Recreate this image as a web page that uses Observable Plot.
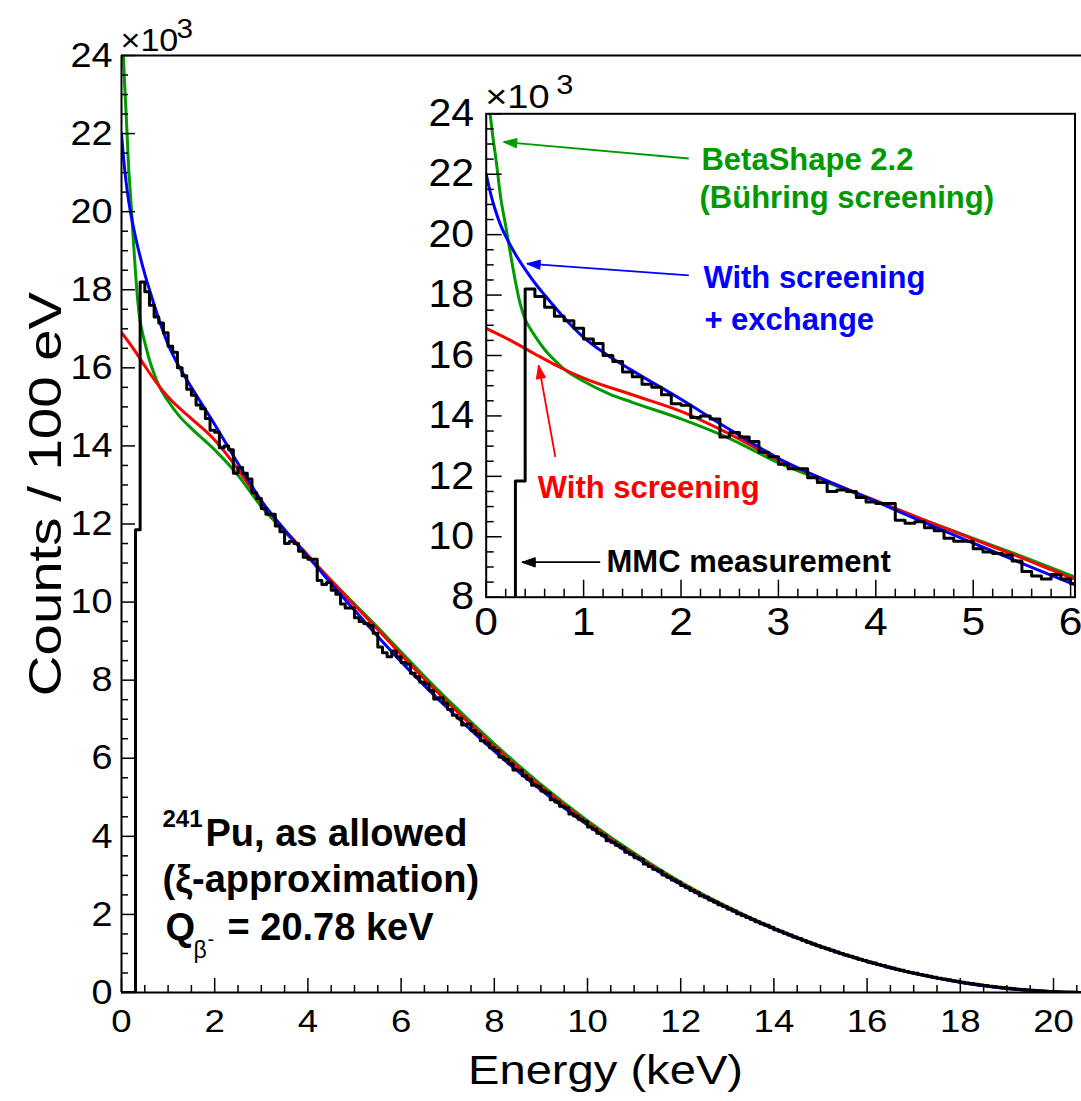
<!DOCTYPE html>
<html><head><meta charset="utf-8">
<script src="https://cdn.jsdelivr.net/npm/d3@7"></script>
<script src="https://cdn.jsdelivr.net/npm/@observablehq/plot@0.6"></script>
<style>
html,body{margin:0;padding:0;background:#fff;overflow:hidden;}
#wrap{position:relative;width:1081px;height:1101px;}
#wrap svg{position:absolute;left:0;top:0;}
</style></head><body><div id="wrap"></div>
<script>
// ---------------- data (counts in units of 10^3 per 100 eV) ----------------
const binWidth = 0.1;   // keV (100 eV bins)
const histStart = 0;    // keV, low edge of first bin
const histCounts = [
  0, 0, 0, 11.85,
  18.2, 17.95, 17.6, 17.3, 17.15, 16.9, 16.55, 16.4, 16.0, 15.8,
  15.45, 15.3, 15.05, 14.95, 14.7, 14.4, 14.35, 13.95, 14.0, 13.9,
  13.3, 13.45, 13.3, 13.15, 12.8, 12.65, 12.4, 12.25, 12.25, 11.95,
  11.8, 11.5, 11.55, 11.5, 11.3, 11.15, 11.1, 11.1, 10.55, 10.45,
  10.5, 10.3, 10.2, 9.95, 9.85, 9.85, 9.6, 9.5, 9.45, 9.4,
  9.2, 8.85, 8.7, 8.6, 8.75, 8.6, 8.45,
  8.41, 8.18, 8.09, 7.95, 7.90, 7.74, 7.52, 7.55, 7.41, 7.25,
  7.10, 7.03, 6.85, 6.88, 6.71, 6.62, 6.45, 6.39, 6.27, 6.20,
  6.03, 5.97, 5.86, 5.70, 5.69, 5.55, 5.46, 5.31, 5.28, 5.16,
  5.11, 4.94, 4.88, 4.77, 4.73, 4.57, 4.52, 4.44, 4.38, 4.24,
  4.18, 4.08, 4.03, 3.89, 3.85, 3.77, 3.71, 3.59, 3.54, 3.45,
  3.41, 3.29, 3.23, 3.16, 3.11, 3.01, 2.95, 2.88, 2.83, 2.74,
  2.69, 2.61, 2.56, 2.48, 2.44, 2.37, 2.32, 2.25, 2.20, 2.14,
  2.09, 2.02, 1.97, 1.92, 1.87, 1.81, 1.76, 1.72, 1.67, 1.61,
  1.57, 1.52, 1.47, 1.42, 1.38, 1.33, 1.29, 1.24, 1.20, 1.16,
  1.12, 1.08, 1.04, 1.00, 0.96, 0.93, 0.89, 0.85, 0.82, 0.78,
  0.755, 0.72, 0.69, 0.655, 0.625, 0.595, 0.57, 0.54, 0.515, 0.49,
  0.46, 0.44, 0.415, 0.39, 0.365, 0.345, 0.325, 0.30, 0.285, 0.265,
  0.245, 0.23, 0.21, 0.195, 0.178, 0.162, 0.148, 0.133, 0.12, 0.108,
  0.096, 0.085, 0.075, 0.065, 0.055, 0.047, 0.039, 0.032, 0.025, 0.019,
  0.014, 0.009, 0.006, 0.004, 0.002, 0.001, 0
];

// BetaShape 2.2 (Bühring screening)
const greenE = [0.04, 0.07, 0.1, 0.15, 0.2, 0.25, 0.3, 0.35, 0.4, 0.45, 0.5, 0.6, 0.7, 0.8, 1.0, 1.25, 1.5, 2, 2.5, 3, 3.5, 4, 4.5, 5, 5.5, 6, 6.5, 7, 8, 9, 10, 11, 12, 13, 14, 15, 16, 17, 18, 19, 20, 20.78];
const greenV = [24.0, 23.2, 22.5, 21.2, 20.3, 19.35, 18.45, 17.7, 17.2, 16.9, 16.65, 16.2, 15.85, 15.55, 15.15, 14.75, 14.45, 13.9, 13.25, 12.45, 11.8, 11.18, 10.55, 9.95, 9.35, 8.72, 8.1, 7.5, 6.37, 5.33, 4.4, 3.57, 2.83, 2.2, 1.65, 1.19, 0.8, 0.49, 0.265, 0.105, 0.02, 0];
// With screening + exchange
const blueE = [0, 0.05, 0.1, 0.15, 0.2, 0.3, 0.4, 0.5, 0.6, 0.8, 1.0, 1.25, 1.5, 2, 2.5, 3, 3.5, 4, 4.5, 5, 5.5, 6, 6.5, 7, 8, 9, 10, 11, 12, 13, 14, 15, 16, 17, 18, 19, 20, 20.78];
const blueV = [22.0, 21.3, 20.75, 20.3, 19.95, 19.35, 18.85, 18.4, 18.0, 17.25, 16.6, 16.0, 15.5, 14.55, 13.55, 12.6, 11.85, 11.17, 10.47, 9.79, 9.12, 8.47, 7.86, 7.28, 6.18, 5.19, 4.29, 3.49, 2.77, 2.16, 1.63, 1.17, 0.79, 0.49, 0.265, 0.105, 0.02, 0];
// With screening
const redE = [0, 0.25, 0.5, 0.75, 1, 1.5, 2, 2.5, 3, 3.5, 4, 4.5, 5, 5.5, 6, 6.5, 7, 8, 9, 10, 11, 12, 13, 14, 15, 16, 17, 18, 19, 20, 20.78];
const redV = [16.9, 16.5, 16.05, 15.62, 15.25, 14.7, 14.15, 13.4, 12.55, 11.85, 11.2, 10.55, 9.92, 9.3, 8.65, 8.03, 7.43, 6.3, 5.27, 4.35, 3.53, 2.8, 2.18, 1.64, 1.18, 0.8, 0.49, 0.265, 0.105, 0.02, 0];

// tick labels
const mainXTicks = [0, 2, 4, 6, 8, 10, 12, 14, 16, 18, 20];
const mainYTicks = [0, 2, 4, 6, 8, 10, 12, 14, 16, 18, 20, 22, 24];
const insetXTicks = [0, 1, 2, 3, 4, 5, 6];
const insetYTicks = [8, 10, 12, 14, 16, 18, 20, 22, 24];

// inset annotations (inset data coordinates)
const noteText  = ["BetaShape 2.2", "(Bühring screening)", "With screening", "+ exchange", "With screening", "MMC measurement"];
const noteE     = [2.21, 2.19, 2.23, 2.24, 0.53, 1.235];
const noteV     = [22.13, 20.87, 18.25, 16.83, 11.27, 8.85];
const noteColor = ["green", "green", "blue", "blue", "red", "black"];
const arrowE1 = [2.08, 2.08, 0.71, 1.17];
const arrowV1 = [22.52, 18.65, 12.64, 9.16];
const arrowE2 = [0.18, 0.42, 0.54, 0.37];
const arrowV2 = [23.07, 19.04, 15.67, 9.16];
const arrowColor = ["green", "blue", "red", "black"];

// ---------------- build ----------------
const COLORS = {green: "#009a00", blue: "#0000ff", red: "#ff0000", black: "#000000"};
const FONT = "'Liberation Sans', Arial, Helvetica, sans-serif";
const histPts = histCounts.map((v, i) => ({e: histStart + i * binWidth, v}));
histPts.push({e: histStart + histCounts.length * binWidth, v: histCounts[histCounts.length - 1]});
const pts = (E, V) => E.map((e, i) => ({e, v: V[i]}));
const greenPts = pts(greenE, greenV), bluePts = pts(blueE, blueV), redPts = pts(redE, redV);
const notes = noteText.map((t, i) => ({t, e: noteE[i], v: noteV[i], c: COLORS[noteColor[i]]}));
const arrows = arrowE1.map((e, i) => ({e1: e, v1: arrowV1[i], e2: arrowE2[i], v2: arrowV2[i], c: COLORS[arrowColor[i]]}));
const minor = (a, b, s, majors) => d3.range(a, b + 1e-9, s).map(d => +d.toFixed(3)).filter(d => !majors.some(m => Math.abs(m - d) < 1e-6));

function curveMarks() {
  return [
    Plot.line(greenPts, {x: "e", y: "v", stroke: COLORS.green, strokeWidth: 3, curve: "monotone-x", clip: true}),
    Plot.line(redPts, {x: "e", y: "v", stroke: COLORS.red, strokeWidth: 3, curve: "monotone-x", clip: true}),
    Plot.line(bluePts, {x: "e", y: "v", stroke: COLORS.blue, strokeWidth: 3, curve: "monotone-x", clip: true}),
    Plot.line(histPts, {x: "e", y: "v", stroke: "black", strokeWidth: 3, curve: "step-after", clip: true})
  ];
}

// widen regular-weight text horizontally (reference font is wider than Liberation Sans)
function scaleText(el, sx) {
  const t = el.getAttribute("transform") || "";
  el.setAttribute("transform", t + ` scale(${sx},1)`);
}
function stretchAxis(svg, k, sx) {
  svg.querySelectorAll(`g[aria-label="${k}-axis tick label"] text`).forEach(el => scaleText(el, sx));
}
function stretchContent(svg, content, sx) {
  svg.querySelectorAll(`g[aria-label="text"] text`).forEach(el => {
    if (el.textContent === content) scaleText(el, sx);
  });
}

// main panel
const M = {left: 121, top: 55, bottom: 992, right: 1081};
const pxPerKeV = 46.6;
const fw = M.right - M.left, fh = M.bottom - M.top;
const main = Plot.plot({
  width: 1081, height: 1101,
  marginLeft: M.left, marginRight: 1081 - M.right, marginTop: M.top, marginBottom: 1101 - M.bottom,
  x: {domain: [0, 20.78], range: [M.left, M.left + pxPerKeV * 20.78]},
  y: {domain: [0, 24]},
  style: {fontFamily: FONT, background: "white", color: "black"},
  marks: [
    ...curveMarks(),
    Plot.ruleY([24], {stroke: "black", strokeWidth: 2}),
    Plot.ruleY([0], {stroke: "black", strokeWidth: 2}),
    Plot.ruleX([0], {stroke: "black", strokeWidth: 2}),
    Plot.tickX(mainXTicks, {x: d => d, insetTop: fh - 14, strokeWidth: 1.5}),
    Plot.tickX(minor(0, 20.5, 0.5, mainXTicks), {x: d => d, insetTop: fh - 7, strokeWidth: 1.5}),
    Plot.tickY(mainYTicks, {y: d => d, insetRight: fw - 14, strokeWidth: 1.5}),
    Plot.tickY(minor(0, 24, 0.5, mainYTicks), {y: d => d, insetRight: fw - 7, strokeWidth: 1.5}),
    Plot.axisX(mainXTicks, {tickSize: 0, tickPadding: 17, fontSize: 31, label: null}),
    Plot.axisY(mainYTicks, {tickSize: 0, tickPadding: 9, fontSize: 35, label: null}),
    Plot.text(["Energy (keV)"], {frameAnchor: "bottom", dx: 4, dy: 91, lineAnchor: "bottom", textAnchor: "middle", fontSize: 41}),
    Plot.text(["Counts / 100 eV"], {frameAnchor: "left", rotate: -90, dx: -61, dy: -30, lineAnchor: "bottom", textAnchor: "middle", fontSize: 47}),
    Plot.text(["×10"], {frameAnchor: "top-left", dx: -1, dy: -5, lineAnchor: "bottom", textAnchor: "start", fontSize: 31}),
    Plot.text(["3"], {frameAnchor: "top-left", dx: 55, dy: -18, lineAnchor: "bottom", textAnchor: "start", fontSize: 27}),
    // nucleus annotation
    Plot.text(["241"], {frameAnchor: "top-left", dx: 41, dy: 771, lineAnchor: "bottom", textAnchor: "start", fontSize: 24, fontWeight: "bold"}),
    Plot.text(["Pu, as allowed"], {frameAnchor: "top-left", dx: 84, dy: 790, lineAnchor: "bottom", textAnchor: "start", fontSize: 38, fontWeight: "bold"}),
    Plot.text(["(ξ-approximation)"], {frameAnchor: "top-left", dx: 41, dy: 836, lineAnchor: "bottom", textAnchor: "start", fontSize: 38, fontWeight: "bold"}),
    Plot.text(["Q"], {frameAnchor: "top-left", dx: 44, dy: 884, lineAnchor: "bottom", textAnchor: "start", fontSize: 38, fontWeight: "bold"}),
    Plot.text(["β"], {frameAnchor: "top-left", dx: 72, dy: 902, lineAnchor: "bottom", textAnchor: "start", fontSize: 23}),
    Plot.text(["-"], {frameAnchor: "top-left", dx: 86, dy: 890, lineAnchor: "bottom", textAnchor: "start", fontSize: 20}),
    Plot.text(["= 20.78 keV"], {frameAnchor: "top-left", dx: 106, dy: 884, lineAnchor: "bottom", textAnchor: "start", fontSize: 38, fontWeight: "bold"})
  ]
});
stretchAxis(main, "x", 1.18);
stretchAxis(main, "y", 1.08);
stretchContent(main, "Energy (keV)", 1.15);
stretchContent(main, "Counts / 100 eV", 1.2);
stretchContent(main, "×10", 1.1);
stretchContent(main, "3", 1.1);

// inset panel
const I = {left: 485.7, top: 113.3, bottom: 596.7, right: 1074.5};
const ifw = I.right - I.left, ifh = I.bottom - I.top, IH = 650;
const iXmax = 6.045, iYmin = 8, iYmax = 24;
const kx = ifw / iXmax, ky = ifh / (iYmax - iYmin);   // px per data unit in the inset
// filled arrow heads (triangles), built from the arrow end points in pixel space
const HEAD_L = 13, HEAD_W = 4.5;
const heads = [];
arrows.forEach((a, id) => {
  const dxp = (a.e2 - a.e1) * kx, dyp = -(a.v2 - a.v1) * ky;
  const len = Math.hypot(dxp, dyp), ux = dxp / len, uy = dyp / len;
  const corner = s => ({id, c: a.c, e: a.e2 + (-HEAD_L * ux + s * HEAD_W * -uy) / kx, v: a.v2 - (-HEAD_L * uy + s * HEAD_W * ux) / ky});
  heads.push({id, c: a.c, e: a.e2, v: a.v2}, corner(1), corner(-1));
});
const inset = Plot.plot({
  width: 1081, height: IH,
  marginLeft: I.left, marginRight: 1081 - I.right, marginTop: I.top, marginBottom: IH - I.bottom,
  x: {domain: [0, iXmax]},
  y: {domain: [iYmin, iYmax]},
  style: {fontFamily: FONT, background: "transparent", color: "black"},
  marks: [
    Plot.frame({fill: "white"}),
    ...curveMarks(),
    Plot.tickX(insetXTicks, {x: d => d, insetTop: ifh - 17, strokeWidth: 1.5}),
    Plot.tickX(minor(0, 6, 0.2, insetXTicks), {x: d => d, insetTop: ifh - 8, strokeWidth: 1.5}),
    Plot.tickY(insetYTicks, {y: d => d, insetRight: ifw - 16, strokeWidth: 1.5}),
    Plot.tickY(minor(8, 24, 0.5, insetYTicks), {y: d => d, insetRight: ifw - 8, strokeWidth: 1.5}),
    Plot.frame({stroke: "black", strokeWidth: 2}),
    Plot.axisX(insetXTicks, {tickSize: 0, tickPadding: 11, fontSize: 38, label: null}),
    Plot.axisY(insetYTicks, {tickSize: 0, tickPadding: 12, fontSize: 38, label: null}),
    Plot.text(["×10"], {frameAnchor: "top-left", dx: -1, dy: -6, lineAnchor: "bottom", textAnchor: "start", fontSize: 33}),
    Plot.text(["3"], {frameAnchor: "top-left", dx: 70, dy: -20, lineAnchor: "bottom", textAnchor: "start", fontSize: 28}),
    Plot.link(arrows, {x1: "e1", y1: "v1", x2: "e2", y2: "v2", stroke: "c", strokeWidth: 1.8}),
    Plot.line(heads, {x: "e", y: "v", z: "id", fill: "c", stroke: "c", strokeWidth: 1, curve: "linear-closed"}),
    Plot.text(notes, {x: "e", y: "v", text: "t", fill: "c", textAnchor: "start", lineAnchor: "bottom", fontSize: 31, fontWeight: "bold"})
  ]
});
stretchAxis(inset, "x", 1.12);
stretchAxis(inset, "y", 1.08);
stretchContent(inset, "×10", 1.15);
stretchContent(inset, "3", 1.1);

document.getElementById("wrap").append(main, inset);
</script>
</body></html>
